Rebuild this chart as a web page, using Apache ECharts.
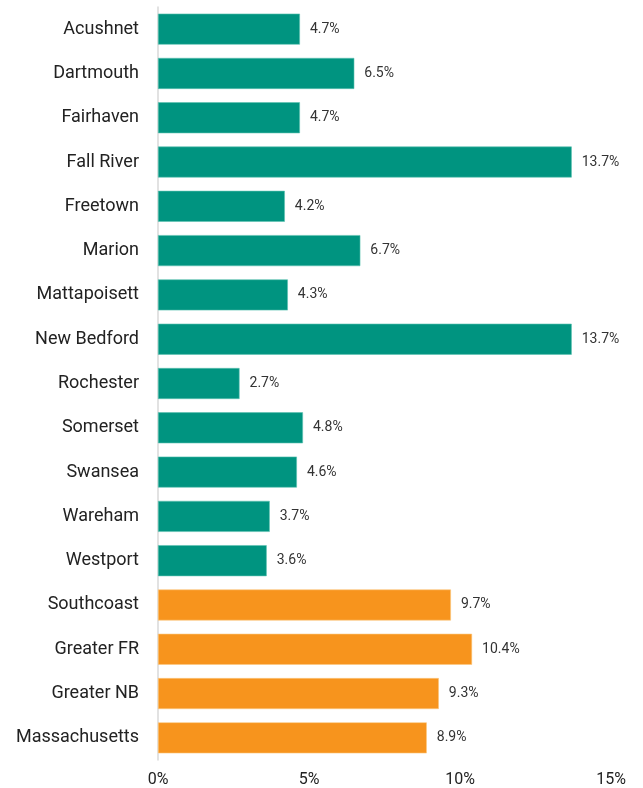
<!DOCTYPE html>
<html>
<head>
<meta charset="utf-8">
<script src="https://cdn.jsdelivr.net/npm/echarts@6/dist/echarts.min.js"></script>
<style>
  html, body { margin: 0; padding: 0; background: #fff; }
  #chart { width: 643px; height: 788px; }
</style>
</head>
<body>
<div id="chart"></div>
<script>
// Town-level and regional rates (percent)
const towns = ["Acushnet", "Dartmouth", "Fairhaven", "Fall River", "Freetown", "Marion",
  "Mattapoisett", "New Bedford", "Rochester", "Somerset", "Swansea", "Wareham", "Westport"];
const townValues = [4.7, 6.5, 4.7, 13.7, 4.2, 6.7, 4.3, 13.7, 2.7, 4.8, 4.6, 3.7, 3.6];
const regions = ["Southcoast", "Greater FR", "Greater NB", "Massachusetts"];
const regionValues = [9.7, 10.4, 9.3, 8.9];
const xTicks = [0, 5, 10, 15];

const TEAL = "#009480";
const ORANGE = "#F7941D";

const categories = towns.concat(regions);
const barData = townValues.map(v => ({
  value: v,
  itemStyle: { color: TEAL, borderColor: "#5cc2b2", borderWidth: 0.6 }
})).concat(regionValues.map(v => ({
  value: v,
  itemStyle: { color: ORANGE, borderColor: "#fbc77f", borderWidth: 0.6 }
})));

const chart = echarts.init(document.getElementById("chart"), null, { renderer: "canvas" });
chart.setOption({
  animation: false,
  grid: { left: 158, right: 32, top: 7, bottom: 27, containLabel: false },
  xAxis: {
    type: "value",
    min: xTicks[0],
    max: xTicks[xTicks.length - 1],
    interval: 5,
    splitLine: { show: false },
    axisLine: { show: false },
    axisTick: { show: false },
    axisLabel: {
      formatter: v => v + "%",
      color: "#222",
      fontFamily: "Roboto",
      fontSize: 16,
      margin: 12
    }
  },
  yAxis: {
    type: "category",
    data: categories,
    inverse: true,
    axisLine: { show: true, lineStyle: { color: "#d9d9d9", width: 1.5 } },
    axisTick: { show: false },
    axisLabel: {
      color: "#222",
      fontFamily: "Roboto",
      fontSize: 18,
      margin: 19
    }
  },
  series: [{
    type: "bar",
    data: barData,
    barCategoryGap: "30%",
    label: {
      show: true,
      position: "right",
      distance: 10,
      formatter: p => p.value.toFixed(1) + "%",
      color: "#333",
      fontFamily: "Roboto",
      fontSize: 14
    }
  }]
});
</script>
</body>
</html>
